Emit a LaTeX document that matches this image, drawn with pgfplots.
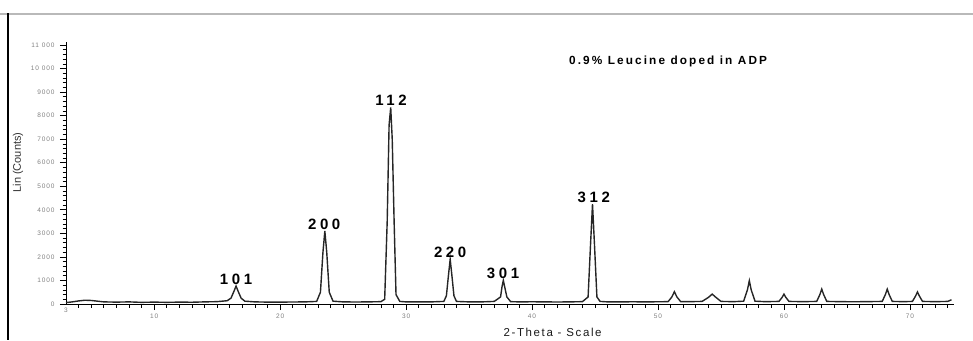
\documentclass[border=0pt]{standalone}
\usepackage{fontspec}
\setmainfont{Liberation Sans}
\newfontfamily\spf[LetterSpace=14]{Liberation Sans}
\newfontfamily\spft[LetterSpace=18]{Liberation Sans}
\newfontfamily\spfb[LetterSpace=24]{Liberation Sans}
\usepackage{pgfplots}
\pgfplotsset{compat=1.18}
\pgfplotstableread{
x y
3 60
3.5 90
4 130
4.5 160
5 150
5.5 120
6 90
7 80
8 90
9 70
10 80
11 70
12 80
13 75
14 90
15 100
15.8 140
16.1 250
16.35 560
16.5 760
16.65 560
16.9 250
17.2 120
18 90
19 80
20 80
21 85
22 90
22.9 110
23.2 500
23.4 2200
23.55 3100
23.7 2200
23.9 500
24.2 120
25 90
26 85
27 90
28 100
28.3 200
28.5 3500
28.65 7600
28.78 8350
28.9 7000
29.05 3500
29.2 400
29.5 110
30 90
31 90
32 90
33 110
33.2 350
33.38 1300
33.5 1900
33.62 1300
33.8 350
34.0 110
35 90
36 90
37 110
37.5 300
37.62 750
37.72 1000
37.82 750
38.0 300
38.3 100
39 90
40 95
41 90
42 85
43 90
44 100
44.45 300
44.65 2600
44.8 4240
44.95 2600
45.15 300
45.4 110
46 90
47 90
48 95
49 90
50 95
50.8 100
51.1 300
51.3 520
51.5 300
51.8 100
52.5 100
53.5 110
54.0 280
54.3 420
54.6 280
55 110
56 100
56.8 120
57.1 600
57.25 990
57.4 600
57.7 120
58.5 100
59.6 110
59.85 280
60.0 420
60.15 280
60.4 110
61.5 100
62.6 110
62.85 400
63.0 630
63.15 400
63.4 110
64.5 100
65.5 95
66.5 100
67.8 110
68.05 400
68.2 630
68.35 400
68.6 110
69.5 100
70.2 110
70.45 340
70.6 510
70.75 340
71.0 110
72 100
73 110
73.3 180
}\xrd
\begin{document}
\begin{tikzpicture}
\useasboundingbox (0pt,0pt) rectangle (973pt,340pt);
\draw[gray!55, line width=1.6pt] (0pt,326pt) -- (973pt,326pt);
\draw[black, line width=1.2pt] (8pt,326.8pt) -- (8pt,0pt);
\begin{axis}[
  at={(66pt,36pt)}, anchor=south west,
  scale only axis, width=888pt, height=262pt,
  xmin=3, xmax=73.5, ymin=0, ymax=11130,
  axis x line=bottom, axis y line=left,
  axis line style={-, black, line width=0.9pt},
  tick align=outside,
  scaled y ticks=false,
  xtick={10,20,...,70},
  extra x ticks={3},
  extra x tick style={major tick length=0pt},
  minor xtick={4,5,...,73},
  ytick={0,1000,...,11000},
  yticklabels={0,1000,2000,3000,4000,5000,6000,7000,8000,9000,10 000,11 000},
  minor y tick num=4,
  major tick length=6pt, minor tick length=3.5pt,
  every tick/.style={black, line width=0.7pt},
  tick label style={font=\spf\fontsize{6.5}{7}\selectfont, text=gray},
  yticklabel style={xshift=-2pt},
  /pgf/number format/assume math mode=true,
  xlabel={2-Theta - Scale},
  xlabel style={font=\spf\fontsize{11.5}{13}\selectfont, text=black!90, at={(axis description cs:0.548,-0.107)}, anchor=center},
  ylabel={Lin (Counts)},
  ylabel style={font=\fontsize{11}{13}\selectfont, text=black!80, at={(axis description cs:-0.054,0.54)}, anchor=center},
  clip=false,
]
\addplot[black!85, line width=1.4pt] table[x=x,y=y] {\xrd};
\node[font=\spfb\bfseries\fontsize{15}{16}\selectfont] at (axis cs:16.5,1060) {101};
\node[font=\spfb\bfseries\fontsize{15}{16}\selectfont] at (axis cs:23.5,3400) {200};
\node[font=\spfb\bfseries\fontsize{15}{16}\selectfont] at (axis cs:28.8,8660) {112};
\node[font=\spfb\bfseries\fontsize{15}{16}\selectfont] at (axis cs:33.5,2210) {220};
\node[font=\spfb\bfseries\fontsize{15}{16}\selectfont] at (axis cs:37.7,1320) {301};
\node[font=\spfb\bfseries\fontsize{15}{16}\selectfont] at (axis cs:44.9,4540) {312};
\node[font=\spft\bfseries\fontsize{11.8}{13}\selectfont] at (axis cs:50.8,10320) {0.9\% Leucine doped in ADP};
\end{axis}
\end{tikzpicture}
\end{document}
